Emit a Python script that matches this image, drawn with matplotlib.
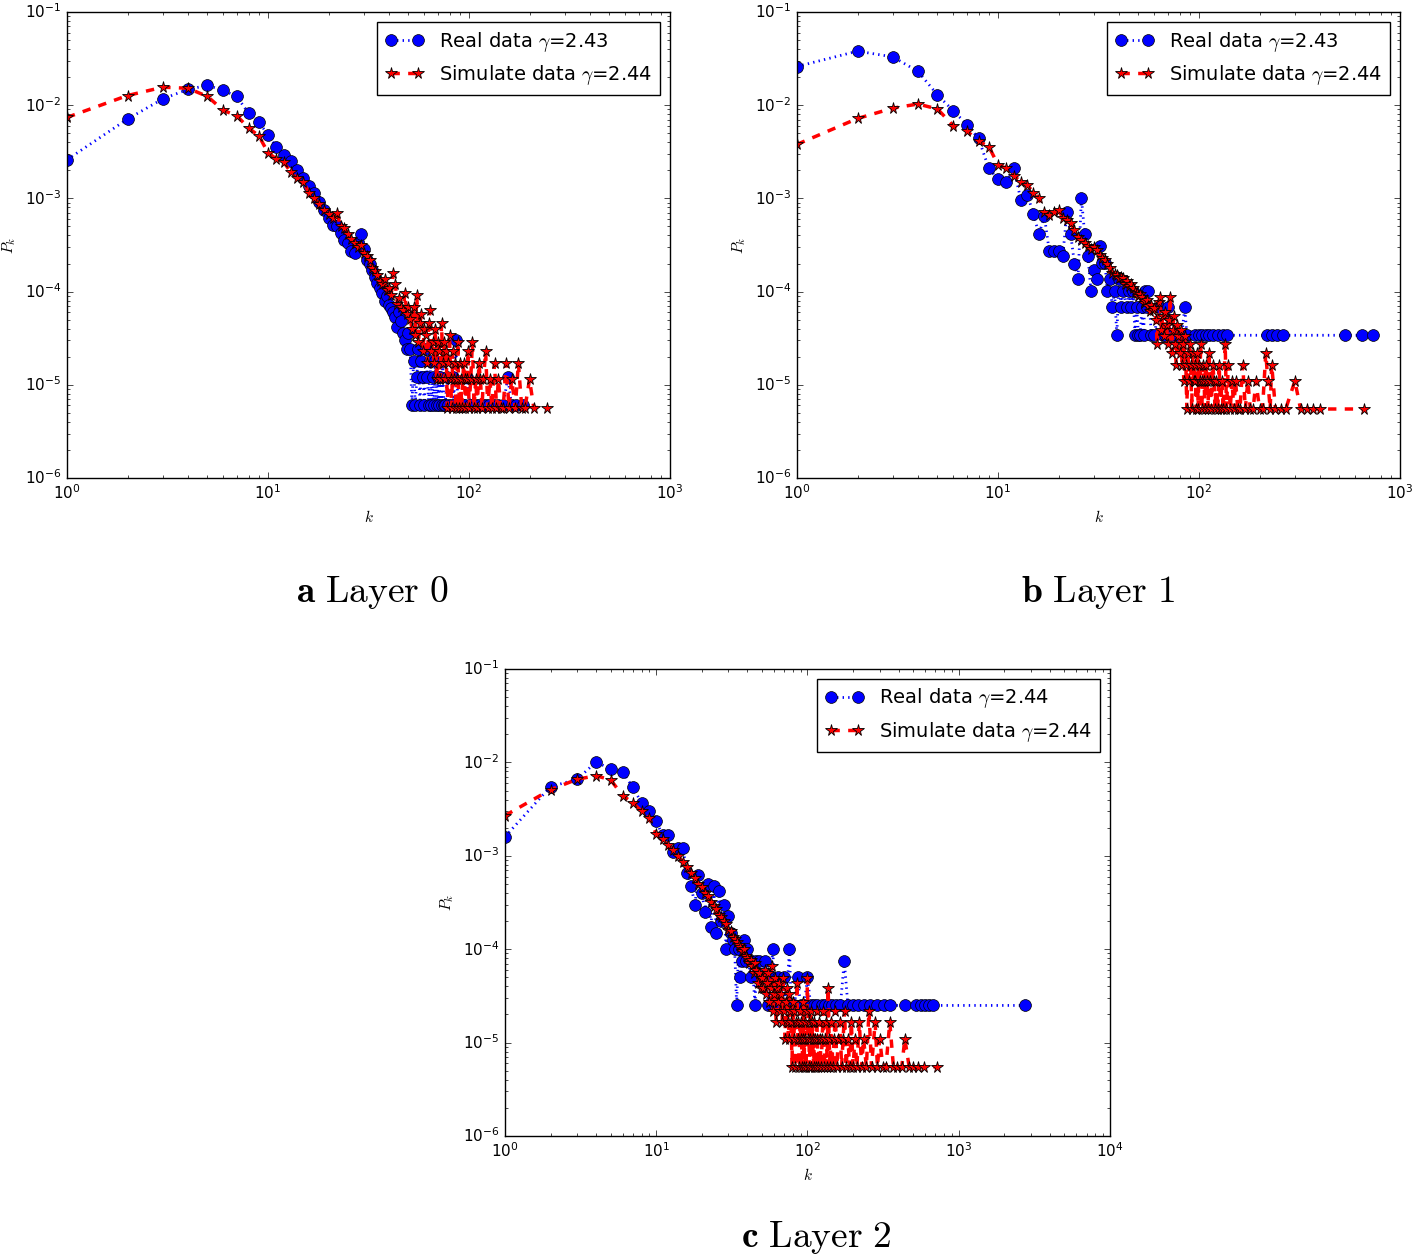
import matplotlib
matplotlib.use("Agg")
import matplotlib.pyplot as plt

plt.style.use("classic")
plt.rcParams["figure.facecolor"] = "white"
plt.rcParams["savefig.facecolor"] = "white"
plt.rcParams["mathtext.fontset"] = "cm"

# degree distributions (k, P_k)
layer0_real = [
    (1, 2.6e-3), (2, 7.1e-3), (3, 1.17e-2), (4, 1.48e-2), (5, 1.63e-2), (6, 1.44e-2), (7, 1.24e-2), (8, 8.2e-3), (9, 6.6e-3), (10, 4.8e-3),
    (11, 3.6e-3), (12, 2.9e-3), (13, 2.5e-3), (14, 2.0e-3), (15, 1.65e-3), (16, 1.35e-3), (17, 1.15e-3), (18, 9.2e-4), (19, 7.6e-4), (20, 6.2e-4),
    (21, 5.2e-4), (22, 5.0e-4), (23, 4.3e-4), (24, 3.6e-4), (25, 3.3e-4), (26, 2.7e-4), (27, 2.6e-4), (28, 3.4e-4), (29, 4.1e-4), (30, 2.9e-4),
    (31, 2.2e-4), (32, 2.0e-4), (33, 1.7e-4), (34, 1.45e-4), (35, 1.25e-4), (36, 1.1e-4), (37, 9.6e-5), (38, 8.0e-5), (39, 9.0e-5), (40, 7.2e-5),
    (41, 6.6e-5), (42, 6.0e-5), (43, 5.4e-5), (44, 4.2e-5), (45, 6.0e-5), (46, 4.8e-5), (47, 3.6e-5), (48, 3.0e-5), (49, 2.4e-5), (50, 3.6e-5),
    (51, 2.4e-5), (52, 6.0e-6), (53, 1.8e-5), (54, 6.0e-6), (55, 1.2e-5), (56, 2.4e-5), (57, 6.0e-6), (58, 1.8e-5), (59, 1.2e-5), (60, 6.0e-6),
    (61, 2.4e-5), (62, 1.2e-5), (63, 6.0e-6), (64, 1.8e-5), (65, 6.0e-6), (66, 1.2e-5), (67, 6.0e-6), (68, 1.8e-5), (69, 6.0e-6), (70, 1.2e-5),
    (71, 6.0e-6), (72, 1.2e-5), (73, 6.0e-6), (74, 1.8e-5), (75, 6.0e-6), (76, 6.0e-6), (78, 1.2e-5), (79, 6.0e-6), (81, 6.0e-6), (83, 1.2e-5),
    (84, 6.0e-6), (86, 3.0e-5), (88, 6.0e-6), (90, 6.0e-6), (93, 6.0e-6), (95, 6.0e-6), (98, 1.2e-5), (101, 6.0e-6), (104, 6.0e-6), (108, 6.0e-6),
    (112, 6.0e-6), (117, 6.0e-6), (121, 6.0e-6), (126, 6.0e-6), (133, 6.0e-6), (140, 6.0e-6), (148, 6.0e-6), (156, 1.2e-5), (163, 6.0e-6),
    (172, 6.0e-6), (185, 6.0e-6),
]
layer0_sim = [
    (1, 7.4e-3), (2, 1.27e-2), (3, 1.56e-2), (4, 1.52e-2), (5, 1.24e-2), (6, 8.8e-3), (7, 7.7e-3), (8, 5.7e-3), (9, 4.7e-3), (10, 3.1e-3),
    (11, 2.65e-3), (12, 2.45e-3), (13, 1.9e-3), (14, 1.65e-3), (15, 1.5e-3), (16, 1.15e-3), (17, 1.0e-3), (18, 8.8e-4), (19, 7.6e-4), (20, 6.8e-4),
    (21, 6.1e-4), (22, 7.0e-4), (23, 5.0e-4), (24, 4.8e-4), (25, 4.2e-4), (26, 3.7e-4), (27, 3.3e-4), (28, 3.0e-4), (29, 3.2e-4), (30, 2.6e-4),
    (31, 2.4e-4), (32, 2.2e-4), (33, 1.8e-4), (34, 1.65e-4), (35, 1.5e-4), (36, 1.3e-4), (37, 1.2e-4), (38, 1.35e-4), (39, 1.05e-4), (40, 1.1e-4),
    (41, 9.1e-5), (42, 1.6e-4), (43, 1.2e-4), (44, 7.4e-5), (45, 8.6e-5), (46, 6.8e-5), (47, 6.3e-5), (48, 9.7e-5), (49, 5.7e-5), (50, 6.8e-5),
    (51, 5.13e-5), (52, 3.99e-5), (53, 6.84e-5), (54, 3.42e-5), (55, 9.12e-5), (56, 2.85e-5), (57, 4.56e-5), (58, 5.7e-5), (59, 2.28e-5), (60, 3.99e-5),
    (61, 3.42e-5), (62, 1.71e-5), (63, 4.56e-5), (64, 6.27e-5), (65, 2.28e-5), (66, 2.85e-5), (67, 1.71e-5), (68, 3.99e-5), (69, 1.14e-5), (70, 2.85e-5),
    (71, 2.28e-5), (72, 1.14e-5), (73, 4.56e-5), (74, 1.71e-5), (75, 2.85e-5), (76, 1.14e-5), (77, 2.28e-5), (78, 5.7e-6), (79, 1.71e-5), (80, 3.42e-5),
    (81, 1.14e-5), (82, 5.7e-6), (83, 2.28e-5), (84, 1.14e-5), (85, 1.71e-5), (86, 5.7e-6), (87, 1.14e-5), (88, 2.85e-5), (89, 5.7e-6), (90, 1.71e-5),
    (91, 1.14e-5), (92, 5.7e-6), (94, 1.71e-5), (95, 1.14e-5), (96, 5.7e-6), (98, 1.14e-5), (99, 2.28e-5), (100, 5.7e-6), (102, 1.14e-5), (104, 2.85e-5),
    (106, 5.7e-6), (108, 1.14e-5), (110, 5.7e-6), (112, 1.71e-5), (114, 1.14e-5), (116, 5.7e-6), (118, 1.14e-5), (121, 2.28e-5), (124, 5.7e-6), (127, 1.14e-5),
    (130, 5.7e-6), (134, 1.71e-5), (137, 5.7e-6), (140, 1.14e-5), (144, 5.7e-6), (148, 5.7e-6), (153, 1.71e-5), (158, 5.7e-6), (163, 1.14e-5), (170, 5.7e-6),
    (176, 1.71e-5), (183, 5.7e-6), (190, 5.7e-6), (200, 1.14e-5), (210, 5.7e-6), (245, 5.7e-6),
]

layer1_real = [
    (1, 2.6e-2), (2, 3.8e-2), (3, 3.3e-2), (4, 2.3e-2), (5, 1.29e-2), (6, 8.7e-3), (7, 6.2e-3), (8, 4.4e-3), (9, 2.1e-3), (10, 1.6e-3),
    (11, 1.5e-3), (12, 2.1e-3), (13, 9.5e-4), (14, 1.1e-3), (15, 6.8e-4), (16, 4.1e-4), (17, 6.5e-4), (18, 2.7e-4), (19, 2.7e-4), (20, 2.7e-4),
    (21, 2.4e-4), (22, 7.1e-4), (23, 4.1e-4), (24, 2.0e-4), (25, 1.36e-4), (26, 1.02e-3), (27, 4.1e-4), (28, 2.4e-4), (29, 1.02e-4), (30, 1.7e-4),
    (31, 1.36e-4), (32, 3.06e-4), (33, 2.04e-4), (34, 2.04e-4), (35, 1.02e-4), (36, 1.36e-4), (37, 6.8e-5), (38, 1.02e-4), (39, 3.4e-5), (40, 1.36e-4),
    (41, 6.8e-5), (42, 1.02e-4), (44, 6.8e-5), (45, 1.02e-4), (46, 6.8e-5), (47, 1.02e-4), (48, 3.4e-5), (49, 6.8e-5), (50, 3.4e-5), (51, 3.4e-5),
    (52, 6.8e-5), (53, 3.4e-5), (54, 1.02e-4), (55, 6.8e-5), (56, 1.02e-4), (58, 3.4e-5), (60, 3.4e-5), (63, 6.8e-5), (66, 3.4e-5), (68, 3.4e-5),
    (70, 6.8e-5), (72, 3.4e-5), (74, 3.4e-5), (78, 3.4e-5), (82, 3.4e-5), (85, 6.8e-5), (87, 3.4e-5), (95, 3.4e-5), (100, 3.4e-5), (104, 3.4e-5),
    (108, 3.4e-5), (112, 3.4e-5), (118, 3.4e-5), (125, 3.4e-5), (131, 3.4e-5), (138, 3.4e-5), (218, 3.4e-5), (230, 3.4e-5), (245, 3.4e-5), (261, 3.4e-5),
    (530, 3.4e-5), (645, 3.4e-5), (730, 3.4e-5),
]
layer1_sim = [
    (1, 3.8e-3), (2, 7.2e-3), (3, 9.3e-3), (4, 1.03e-2), (5, 9.1e-3), (6, 6.0e-3), (7, 5.3e-3), (8, 4.1e-3), (9, 3.6e-3), (10, 2.3e-3),
    (11, 2.1e-3), (12, 1.75e-3), (13, 1.5e-3), (14, 1.4e-3), (15, 1.15e-3), (16, 1.0e-3), (17, 7.1e-4), (18, 6.7e-4), (19, 7.2e-4), (20, 7.5e-4),
    (21, 6.2e-4), (22, 5.8e-4), (23, 5.4e-4), (24, 4.6e-4), (25, 3.9e-4), (26, 3.6e-4), (27, 3.3e-4), (28, 3.1e-4), (29, 2.9e-4), (30, 3.0e-4),
    (31, 2.8e-4), (32, 2.5e-4), (33, 2.3e-4), (34, 2.2e-4), (35, 2.0e-4), (36, 1.8e-4), (37, 1.6e-4), (38, 1.55e-4), (39, 1.5e-4), (40, 1.4e-4),
    (41, 1.45e-4), (42, 1.4e-4), (43, 1.2e-4), (44, 1.3e-4), (45, 1.15e-4), (46, 1.2e-4), (47, 1.1e-4), (48, 1.0e-4), (49, 9.6e-5), (50, 9.0e-5),
    (51, 9.4e-5), (52, 8.8e-5), (53, 7.5e-5), (54, 8.0e-5), (55, 8.2e-5), (56, 7.0e-5), (57, 6.2e-5), (58, 7.1e-5), (59, 6.3e-5),
    (60, 6.6e-5), (61, 4.95e-5), (62, 2.75e-5), (63, 7.7e-5), (64, 8.8e-5), (65, 3.85e-5), (66, 5.5e-5), (67, 3.3e-5), (68, 6.05e-5), (69, 4.4e-5),
    (70, 2.75e-5), (71, 4.95e-5), (72, 8.8e-5), (73, 2.2e-5), (74, 3.85e-5), (75, 5.5e-5), (76, 2.75e-5), (77, 1.65e-5), (78, 4.4e-5), (79, 3.3e-5),
    (80, 2.2e-5), (81, 3.85e-5), (82, 1.65e-5), (83, 2.75e-5), (84, 1.1e-5), (85, 3.3e-5), (86, 1.65e-5), (87, 5.5e-6), (88, 2.2e-5), (89, 1.1e-5),
    (90, 2.75e-5), (91, 1.65e-5), (92, 5.5e-6), (93, 2.2e-5), (94, 1.1e-5), (95, 1.65e-5), (96, 1.1e-5), (97, 5.5e-6), (98, 2.2e-5), (99, 5.5e-6),
    (100, 1.65e-5), (101, 1.1e-5), (102, 2.75e-5), (103, 5.5e-6), (104, 1.1e-5), (105, 1.65e-5), (106, 1.1e-5), (107, 5.5e-6), (108, 1.65e-5), (110, 1.1e-5),
    (111, 5.5e-6), (112, 2.2e-5), (114, 1.1e-5), (115, 5.5e-6), (117, 1.65e-5), (119, 1.1e-5), (120, 5.5e-6), (122, 1.1e-5), (124, 5.5e-6), (126, 1.65e-5),
    (128, 5.5e-6), (130, 1.1e-5), (132, 5.5e-6), (135, 2.75e-5), (137, 5.5e-6), (140, 1.65e-5), (143, 5.5e-6), (146, 1.1e-5), (149, 5.5e-6), (152, 1.1e-5),
    (156, 5.5e-6), (160, 5.5e-6), (165, 1.65e-5), (170, 5.5e-6), (175, 1.1e-5), (180, 5.5e-6), (186, 5.5e-6), (192, 1.1e-5), (200, 5.5e-6), (207, 5.5e-6),
    (215, 2.2e-5), (220, 1.1e-5), (226, 5.5e-6), (230, 1.65e-5), (240, 5.5e-6), (255, 5.5e-6), (270, 5.5e-6), (300, 1.1e-5), (320, 5.5e-6), (345, 5.5e-6),
    (370, 5.5e-6), (400, 5.5e-6), (660, 5.5e-6),
]

layer2_real = [
    (1, 1.6e-3), (2, 5.5e-3), (3, 6.6e-3), (4, 1.01e-2), (5, 8.5e-3), (6, 7.9e-3), (7, 5.4e-3), (8, 3.7e-3), (9, 3.0e-3), (10, 2.35e-3),
    (11, 1.65e-3), (12, 1.65e-3), (13, 1.1e-3), (14, 1.2e-3), (15, 1.2e-3), (16, 6.5e-4), (17, 4.75e-4), (18, 3.0e-4), (19, 6.25e-4), (20, 4.0e-4),
    (21, 2.5e-4), (22, 5.0e-4), (23, 1.75e-4), (24, 4.75e-4), (25, 1.5e-4), (26, 4.25e-4), (27, 2.0e-4), (28, 3.0e-4), (29, 1.0e-4), (30, 2.25e-4),
    (31, 1.5e-4), (32, 1.25e-4), (33, 1.0e-4), (34, 2.5e-5), (35, 1.0e-4), (36, 5.0e-5), (37, 7.5e-5), (38, 1.25e-4), (39, 7.5e-5), (40, 1.0e-4),
    (42, 5.0e-5), (43, 7.5e-5), (45, 2.5e-5), (46, 7.5e-5), (48, 7.5e-5), (50, 5.0e-5), (52, 7.5e-5), (55, 2.5e-5), (57, 5.0e-5), (59, 1.0e-4),
    (61, 2.5e-5), (64, 5.0e-5), (67, 2.5e-5), (70, 5.0e-5), (72, 2.5e-5), (76, 1.0e-4), (78, 2.5e-5), (82, 2.5e-5), (86, 5.0e-5), (90, 2.5e-5),
    (95, 2.5e-5), (100, 5.0e-5), (105, 2.5e-5), (110, 2.5e-5), (115, 2.5e-5), (124, 2.5e-5), (130, 2.5e-5), (138, 2.5e-5), (145, 2.5e-5), (155, 2.5e-5),
    (165, 2.5e-5), (175, 7.5e-5), (185, 2.5e-5), (200, 2.5e-5), (215, 2.5e-5), (235, 2.5e-5), (260, 2.5e-5), (290, 2.5e-5), (320, 2.5e-5), (350, 2.5e-5),
    (440, 2.5e-5), (520, 2.5e-5), (560, 2.5e-5), (600, 2.5e-5), (640, 2.5e-5), (680, 2.5e-5), (2750, 2.5e-5),
]
layer2_sim = [
    (1, 2.7e-3), (2, 5.1e-3), (3, 6.6e-3), (4, 7.2e-3), (5, 6.5e-3), (6, 4.4e-3), (7, 3.7e-3), (8, 3.0e-3), (9, 2.55e-3), (10, 1.7e-3),
    (11, 1.5e-3), (12, 1.3e-3), (13, 1.15e-3), (14, 1.0e-3), (15, 8.5e-4), (16, 7.5e-4), (17, 6.5e-4), (18, 5.8e-4), (19, 5.0e-4), (20, 4.6e-4),
    (21, 4.0e-4), (22, 3.7e-4), (23, 3.2e-4), (24, 2.9e-4), (25, 2.7e-4), (26, 2.3e-4), (27, 2.2e-4), (28, 2.0e-4), (29, 1.85e-4), (30, 1.6e-4),
    (31, 1.55e-4), (32, 1.35e-4), (33, 1.3e-4), (34, 1.2e-4), (35, 1.1e-4), (36, 1.05e-4), (37, 9.5e-5), (38, 1.0e-4), (39, 8.5e-5), (40, 8.0e-5),
    (41, 7.2e-5), (42, 7.7e-5), (43, 6.6e-5), (44, 5.5e-5), (45, 7.15e-5), (46, 6.05e-5), (47, 4.4e-5), (48, 5.5e-5), (49, 3.85e-5),
    (50, 4.95e-5), (51, 3.85e-5), (52, 6.05e-5), (53, 3.3e-5), (54, 4.4e-5), (55, 5.5e-5), (56, 2.75e-5), (57, 3.85e-5), (58, 6.6e-5), (59, 2.2e-5),
    (60, 3.3e-5), (61, 4.95e-5), (62, 1.65e-5), (63, 3.85e-5), (64, 2.75e-5), (65, 4.4e-5), (66, 2.2e-5), (67, 3.3e-5), (68, 1.65e-5), (69, 4.95e-5),
    (70, 2.2e-5), (71, 1.1e-5), (72, 2.75e-5), (73, 3.85e-5), (74, 1.65e-5), (75, 1.1e-5), (76, 3.3e-5), (77, 2.2e-5), (78, 1.65e-5), (79, 5.5e-6),
    (80, 2.75e-5), (81, 1.1e-5), (82, 2.2e-5), (83, 5.5e-6), (84, 1.65e-5), (85, 4.4e-5), (86, 1.1e-5), (87, 1.65e-5), (88, 5.5e-6), (89, 2.2e-5),
    (90, 1.1e-5), (91, 1.65e-5), (92, 5.5e-6), (93, 1.1e-5), (94, 2.75e-5), (95, 5.5e-6), (96, 1.65e-5), (97, 1.1e-5), (98, 5.5e-6), (99, 2.2e-5),
    (100, 4.95e-5), (101, 1.1e-5), (102, 1.65e-5), (103, 5.5e-6), (104, 1.1e-5), (105, 2.2e-5), (106, 5.5e-6), (107, 1.65e-5), (108, 1.1e-5), (110, 5.5e-6),
    (111, 1.65e-5), (112, 1.1e-5), (113, 5.5e-6), (115, 2.2e-5), (116, 1.1e-5), (118, 5.5e-6), (120, 1.65e-5), (121, 1.1e-5), (123, 5.5e-6), (125, 1.1e-5),
    (127, 2.2e-5), (129, 5.5e-6), (131, 1.1e-5), (133, 1.65e-5), (135, 5.5e-6), (137, 3.85e-5), (139, 1.1e-5), (141, 5.5e-6), (144, 1.65e-5), (147, 5.5e-6),
    (150, 1.1e-5), (153, 2.2e-5), (156, 5.5e-6), (160, 1.1e-5), (164, 1.65e-5), (168, 5.5e-6), (172, 1.1e-5), (176, 2.2e-5), (180, 5.5e-6), (185, 1.1e-5),
    (190, 5.5e-6), (195, 1.65e-5), (200, 5.5e-6), (206, 1.1e-5), (212, 5.5e-6), (220, 1.65e-5), (228, 5.5e-6), (235, 1.1e-5), (245, 5.5e-6), (255, 2.2e-5),
    (265, 5.5e-6), (280, 1.65e-5), (290, 5.5e-6), (300, 1.1e-5), (315, 5.5e-6), (330, 5.5e-6), (350, 1.65e-5), (370, 5.5e-6), (390, 5.5e-6), (420, 5.5e-6),
    (440, 1.1e-5), (470, 5.5e-6), (500, 5.5e-6), (540, 5.5e-6), (590, 5.5e-6), (716, 5.5e-6),
]

gamma_real = ["2.43", "2.43", "2.44"]
gamma_sim = ["2.44", "2.44", "2.44"]
captions = [r"$\mathbf{a}\ \mathrm{Layer\ 0}$", r"$\mathbf{b}\ \mathrm{Layer\ 1}$", r"$\mathbf{c}\ \mathrm{Layer\ 2}$"]
xmax = [1e3, 1e3, 1e4]

W, H = 1416, 1255
# axes boxes in pixels: left, top, right, bottom
boxes = [(67, 12, 670, 478), (797, 12, 1400, 478), (505, 669, 1110, 1136)]
cap_pos = [(372, 592), (1098, 592), (816, 1237)]

fig = plt.figure(figsize=(W / 100, H / 100), dpi=100)

series = [(layer0_real, layer0_sim), (layer1_real, layer1_sim), (layer2_real, layer2_sim)]
for i, (real, sim) in enumerate(series):
    l, t, r, b = boxes[i]
    ax = fig.add_axes([l / W, 1 - b / H, (r - l) / W, (b - t) / H])

    k, p = zip(*real)
    ax.loglog(k, p, color="b", ls=":", lw=2, marker="o", ms=8.5, mec="k", mew=0.5,
              label=r"Real data $\gamma$=" + gamma_real[i])
    k, p = zip(*sim)
    ax.loglog(k, p, color="r", ls="--", lw=2.5, marker="*", ms=8.5, mec="k", mew=0.6,
              label=r"Simulate data $\gamma$=" + gamma_sim[i])

    ax.set_xlim(1, xmax[i])
    ax.set_ylim(1e-6, 1e-1)
    ax.set_xlabel("$k$", fontsize=11)
    ax.set_ylabel("$P_k$", fontsize=11)
    ax.tick_params(labelsize=11)
    ax.legend(loc="upper right", fontsize=14, numpoints=2, fancybox=False)

    cx, cy = cap_pos[i]
    fig.text(cx / W, 1 - cy / H, captions[i], ha="center", va="center", fontsize=27)

fig.savefig("out.png", dpi=100)
